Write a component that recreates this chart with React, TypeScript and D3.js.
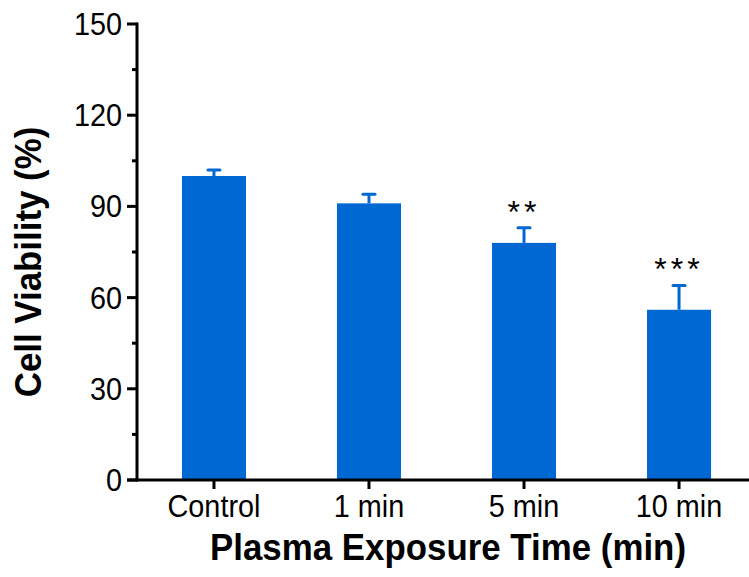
import React from "react";
import * as d3 from "d3";

const categories = ["Control", "1 min", "5 min", "10 min"];
const values = [100, 91, 78, 56];
const errors = [2, 3, 5, 8];
const significance = ["", "", "**", "***"];
const yTicks = [0, 30, 60, 90, 120, 150];
const yMinorTicks = [15, 45, 75, 105, 135];

const W = 749;
const H = 577;
const BLUE = "#0068D2";
const FONT = "'Liberation Sans', Arial, sans-serif";
const SX = 0.93;

export default function App() {
  const x0 = 137;
  const yScale = d3.scaleLinear().domain([0, 150]).range([480, 24]);
  const xScale = d3
    .scaleBand<string>()
    .domain(categories)
    .range([x0, 756])
    .paddingInner(0.587)
    .paddingOuter(0.29);
  const bw = xScale.bandwidth();
  const capW = 12;

  return (
    <svg
      width={W}
      height={H}
      style={{ position: "fixed", left: 0, top: 0, background: "#fff" }}
      fontFamily={FONT}
    >
      <rect x={0} y={0} width={W} height={H} fill="#fff" />
      {categories.map((c, i) => {
        const x = xScale(c)!;
        const cx = x + bw / 2;
        const yTop = yScale(values[i]);
        const yErr = yScale(values[i] + errors[i]);
        return (
          <g key={c}>
            <line x1={cx} x2={cx} y1={yTop} y2={yErr} stroke={BLUE} strokeWidth={3} />
            <line
              x1={cx - capW / 2}
              x2={cx + capW / 2}
              y1={yErr}
              y2={yErr}
              stroke={BLUE}
              strokeWidth={3}
              strokeLinecap="round"
            />
            <rect x={x} y={yTop} width={bw} height={yScale(0) - yTop} fill={BLUE} />
            {significance[i] && (
              <text
                x={cx}
                y={yErr - 5}
                textAnchor="middle"
                fontSize={32}
                letterSpacing={4}
                fill="#000"
              >
                {significance[i]}
              </text>
            )}
          </g>
        );
      })}
      <line x1={x0} x2={x0} y1={yScale(150) - 1.5} y2={yScale(0) + 1.5} stroke="#000" strokeWidth={3} />
      {yTicks.map((t) => (
        <g key={t}>
          <line x1={x0 - 10} x2={x0} y1={yScale(t)} y2={yScale(t)} stroke="#000" strokeWidth={3} />
          <text
            transform={`translate(${x0 - 15}, ${yScale(t) + 11}) scale(${SX},1)`}
            textAnchor="end"
            fontSize={31}
            fill="#000"
          >
            {t}
          </text>
        </g>
      ))}
      {yMinorTicks.map((t) => (
        <line key={t} x1={x0 - 5} x2={x0} y1={yScale(t)} y2={yScale(t)} stroke="#000" strokeWidth={3} />
      ))}
      <line x1={x0 - 10} x2={W} y1={yScale(0)} y2={yScale(0)} stroke="#000" strokeWidth={3} />
      {categories.map((c) => {
        const cx = xScale(c)! + bw / 2;
        return (
          <g key={c}>
            <line x1={cx} x2={cx} y1={yScale(0)} y2={yScale(0) + 9} stroke="#000" strokeWidth={3} />
            <text
              transform={`translate(${cx}, 517) scale(${SX},1)`}
              textAnchor="middle"
              fontSize={31}
              fill="#000"
            >
              {c}
            </text>
          </g>
        );
      })}
      <text
        transform={`translate(448, 560) scale(${SX},1)`}
        textAnchor="middle"
        fontSize={37.5}
        fontWeight="bold"
        fill="#000"
      >
        Plasma Exposure Time (min)
      </text>
      <text
        transform={`translate(41, 262) rotate(-90) scale(${SX},1)`}
        textAnchor="middle"
        fontSize={37.5}
        fontWeight="bold"
        fill="#000"
      >
        Cell Viability (%)
      </text>
    </svg>
  );
}
